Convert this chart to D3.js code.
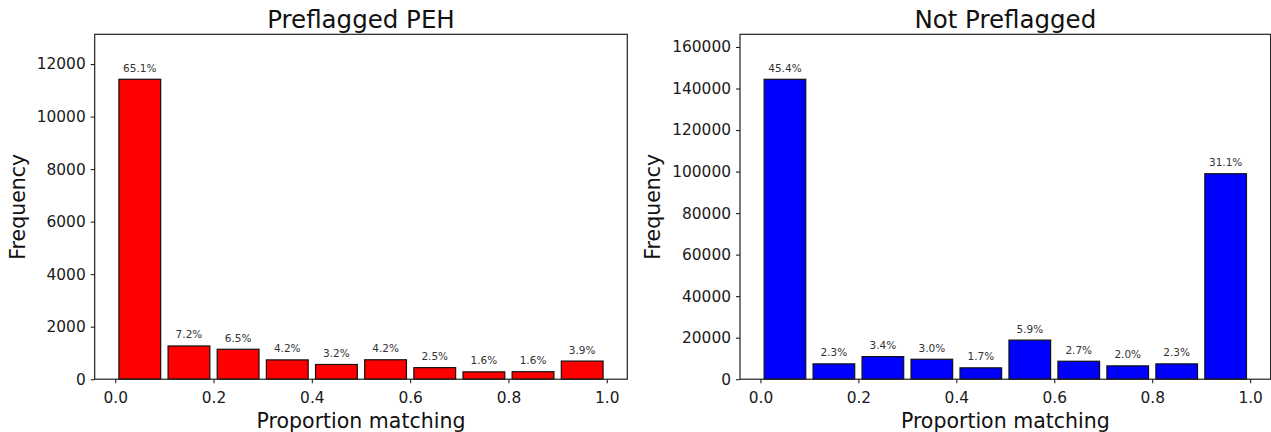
<!DOCTYPE html>
<html>
<head>
<meta charset="utf-8">
<script src="https://cdn.jsdelivr.net/npm/d3@7"></script>
<style>
  html, body { margin: 0; padding: 0; background: #ffffff; }
  svg { display: block; }
  text { font-family: "DejaVu Sans", sans-serif; }
</style>
</head>
<body>
<svg id="chart" width="1271" height="432"></svg>
<script>
// Histogram bins: left edges of the ten 0.1-wide bins
const binEdges = [0.0, 0.1, 0.2, 0.3, 0.4, 0.5, 0.6, 0.7, 0.8, 0.9];
const binWidth = 0.1;

// Counts per bin
const preflaggedCounts = [11420, 1265, 1140, 735, 560, 740, 440, 280, 285, 690];
const notPreflaggedCounts = [144440, 7380, 10880, 9600, 5470, 18830, 8650, 6420, 7380, 98960];

// Axis ticks
const xTicks = [0.0, 0.2, 0.4, 0.6, 0.8, 1.0];
const preflaggedYTicks = [0, 2000, 4000, 6000, 8000, 10000, 12000];
const notPreflaggedYTicks = [0, 20000, 40000, 60000, 80000, 100000, 120000, 140000, 160000];

const titles = ["Preflagged PEH", "Not Preflagged"];
const xLabel = "Proportion matching";
const yLabel = "Frequency";

const svg = d3.select("#chart");

const panels = [
  { title: titles[0], counts: preflaggedCounts, yTicks: preflaggedYTicks, color: "#ff0000",
    left: 94.7, right: 627.3, ylabelX: 25 },
  { title: titles[1], counts: notPreflaggedCounts, yTicks: notPreflaggedYTicks, color: "#0000ff",
    left: 740, right: 1270.6, ylabelX: 660 }
];

const plotTop = 34.3, plotBottom = 379.2;
const rwidth = 0.85;

panels.forEach(p => {
  const g = svg.append("g");
  const total = d3.sum(p.counts);
  const inset = binWidth * (1 - rwidth) / 2;
  const barLo = binEdges[0] + inset;
  const barHi = binEdges[binEdges.length - 1] + binWidth - inset;
  const xm = (barHi - barLo) * 0.05;

  const x = d3.scaleLinear().domain([barLo - xm, barHi + xm]).range([p.left, p.right]);
  const y = d3.scaleLinear().domain([0, d3.max(p.counts) * 1.15]).range([plotBottom, plotTop]);

  // bars
  g.selectAll("rect.bar").data(p.counts).join("rect")
    .attr("class", "bar")
    .attr("x", (d, i) => x(binEdges[i] + inset))
    .attr("width", (d, i) => x(binEdges[i] + binWidth * rwidth) - x(binEdges[i]))
    .attr("y", d => y(d))
    .attr("height", d => y(0) - y(d))
    .attr("fill", p.color)
    .attr("stroke", "#111")
    .attr("stroke-width", 1.2);

  // percentage labels
  g.selectAll("text.pct").data(p.counts).join("text")
    .attr("class", "pct")
    .attr("x", (d, i) => x(binEdges[i] + binWidth / 2))
    .attr("y", d => y(d) - 7.5)
    .attr("text-anchor", "middle")
    .attr("font-size", 10.5)
    .attr("fill", "#333")
    .text(d => (d / total * 100).toFixed(1) + "%");

  // axes
  const xAxis = d3.axisBottom(x).tickValues(xTicks).tickFormat(d3.format(".1f"))
    .tickSizeInner(4).tickSizeOuter(0).tickPadding(8.5);
  const gx = g.append("g").attr("transform", `translate(0,${plotBottom})`).call(xAxis);
  const yAxis = d3.axisLeft(y).tickValues(p.yTicks).tickFormat(d3.format("d"))
    .tickSizeInner(4).tickSizeOuter(0).tickPadding(5);
  const gy = g.append("g").attr("transform", `translate(${p.left},0)`).call(yAxis);
  [gx, gy].forEach(a => {
    a.select(".domain").remove();
    a.selectAll(".tick line").attr("stroke", "#222").attr("stroke-width", 1.1);
    a.selectAll(".tick text").attr("font-size", 15.4).attr("fill", "#1a1a1a")
      .attr("font-family", "DejaVu Sans, sans-serif");
  });

  // frame
  g.append("rect")
    .attr("x", p.left).attr("y", plotTop)
    .attr("width", p.right - p.left).attr("height", plotBottom - plotTop)
    .attr("fill", "none").attr("stroke", "#222").attr("stroke-width", 1.2);

  const cx = (p.left + p.right) / 2;
  g.append("text").attr("x", cx).attr("y", 28).attr("text-anchor", "middle")
    .attr("font-size", 24.5).attr("fill", "#111").text(p.title);
  g.append("text").attr("x", cx).attr("y", 427.5).attr("text-anchor", "middle")
    .attr("font-size", 20.5).attr("fill", "#111").text(xLabel);
  g.append("text")
    .attr("transform", `translate(${p.ylabelX},${(plotTop + plotBottom) / 2}) rotate(-90)`)
    .attr("text-anchor", "middle")
    .attr("font-size", 20.5).attr("fill", "#111").text(yLabel);
});
</script>
</body>
</html>
